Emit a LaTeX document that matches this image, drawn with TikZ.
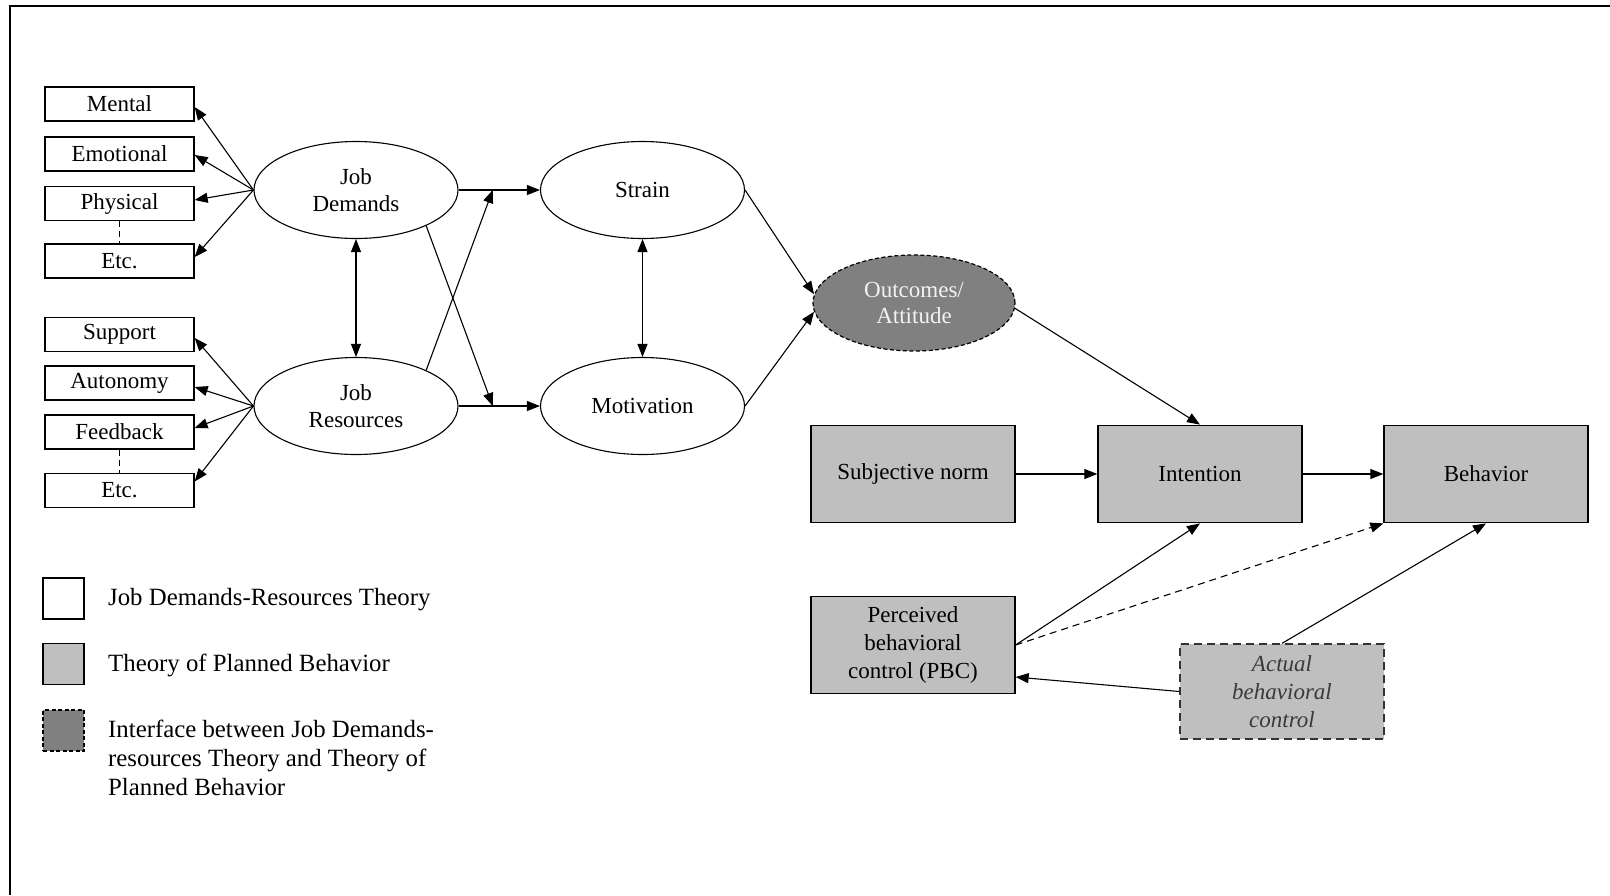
\documentclass[tikz,border=0pt]{standalone}
\usepackage{fontspec}
\setmainfont{Liberation Serif}
\usetikzlibrary{shapes.geometric,arrows.meta,calc}
\definecolor{tpbgray}{HTML}{BFBFBF}
\definecolor{ifgray}{HTML}{808080}
\definecolor{actxt}{HTML}{3A3A3A}
\begin{document}
\begin{tikzpicture}[x=1pt,y=-1pt,
  every node/.style={font=\fontsize{23}{26.5}\selectfont},
  jdbox/.style={draw, line width=1.3pt, rectangle, minimum width=149pt, minimum height=34pt, inner sep=0pt, fill=white},
  jdell/.style={draw, line width=1.1pt, ellipse, minimum width=204pt, minimum height=97pt, inner sep=0pt, align=center},
  tpbbox/.style={draw, line width=1.3pt, fill=tpbgray, minimum width=204pt, minimum height=97.5pt, inner sep=0pt, align=center, font=\fontsize{23}{27.7}\selectfont},
  legbox/.style={draw, line width=1.3pt, minimum width=41pt, minimum height=41pt, inner sep=0pt},
  conn/.style={line width=1.1pt, -{Triangle[length=13pt,width=10pt]}},
  biconn/.style={line width=1.1pt, {Triangle[length=13pt,width=10pt]}-{Triangle[length=13pt,width=10pt]}},
  legtext/.style={anchor=base west, inner sep=0pt, font=\fontsize{24.8}{29}\selectfont},
  divider/.style={line width=1.2pt, dash pattern=on 6pt off 4pt}
]
\useasboundingbox (0,0) rectangle (1610,895);
\draw[line width=1.6pt] (1610,6) -- (10,6) -- (10,895);

% JD-R boxes
\node[jdbox] (mental) at (119.5,104) {Mental};
\node[jdbox] (emo) at (119.5,154) {Emotional};
\node[jdbox] (phys) at (119.5,203.5) {Physical};
\node[jdbox] (etca) at (119.5,261) {Etc.};
\node[jdbox] (supp) at (119.5,334.5) {Support};
\node[jdbox] (auto) at (119.5,383) {Autonomy};
\node[jdbox] (feed) at (119.5,432) {Feedback};
\node[jdbox] (etcb) at (119.5,490.5) {Etc.};

% ellipses
\node[jdell] (jd) at (356,190) {Job\\Demands};
\node[jdell] (jr) at (356,406) {Job\\Resources};
\node[jdell] (strain) at (642.5,190) {Strain};
\node[jdell] (motiv) at (642.5,406) {Motivation};
\node[jdell, fill=ifgray, line width=1.2pt, dash pattern=on 4pt off 2.5pt, text=white!95!black, minimum width=202pt, minimum height=96pt] (out) at (914,303) {Outcomes/\\Attitude};

% TPB boxes
\node[tpbbox] (sn) at (913,474) {Subjective norm};
\node[tpbbox] (int) at (1200,474) {Intention};
\node[tpbbox] (beh) at (1486,474) {Behavior};
\node[tpbbox] (pbc) at (913,645) {Perceived\\behavioral\\control (PBC)};
\node[tpbbox, draw=black!80, dash pattern=on 8pt off 5pt, minimum height=95pt, text=actxt, font=\fontsize{23}{28}\selectfont\itshape] (act) at (1282,691.5) {Actual\\behavioral\\control};

% connectors left
\foreach \n/\dy in {mental/3, emo/1, phys/-3.5, etca/-4}
  \draw[conn] (jd.west) -- ($(\n.east)+(0,\dy)$);
\foreach \n/\dy in {supp/3.5, auto/4, feed/-4, etcb/-9}
  \draw[conn] (jr.west) -- ($(\n.east)+(0,\dy)$);
\draw[divider] (phys.south) -- (etca.north);
\draw[divider] (feed.south) -- (etcb.north);

% middle
\draw[conn] (jd.east) -- (strain.west);
\draw[conn] (jr.east) -- (motiv.west);
\coordinate (xs) at ($(jd.east)!0.42!(strain.west)$);
\coordinate (xm) at ($(jr.east)!0.42!(motiv.west)$);
\draw[conn] (jr.27) -- (xs);
\draw[conn] (jd.-27) -- (xm);
\draw[biconn] (jd.south) -- (jr.north);
\draw[biconn] (strain.south) -- (motiv.north);
\draw[conn] (strain.east) -- (out.175);
\draw[conn] (motiv.east) -- (out.185);

% right
\draw[conn] (out.-3) -- (int.north);
\draw[conn] (sn.east) -- (int.west);
\draw[conn] (int.east) -- (beh.west);
\draw[conn] (pbc.east) -- (int.south);
\draw[conn, dash pattern=on 7pt off 5pt] (pbc.east) -- (beh.south west);
\draw[conn] (act.north) -- (beh.south);
\coordinate (pbcin) at ($(pbc.east)+(0,32)$);
\draw[conn] (act.west) -- (pbcin);

% legend
\node[legbox, fill=white] (lga) at (63.5,598.5) {};
\node[legbox, fill=tpbgray] (lgb) at (63.5,664) {};
\node[legbox, fill=ifgray, dash pattern=on 4pt off 2.5pt] (lgc) at (63.5,730.5) {};
\node[legtext] (lta) at (108,605) {Job Demands-Resources Theory};
\node[legtext] (ltb) at (108,671.5) {Theory of Planned Behavior};
\node[legtext] (ltc) at (108,737) {Interface between Job Demands-};
\node[legtext] (ltd) at (108,766) {resources Theory and Theory of};
\node[legtext] (lte) at (108,795) {Planned Behavior};
\end{tikzpicture}
\end{document}
